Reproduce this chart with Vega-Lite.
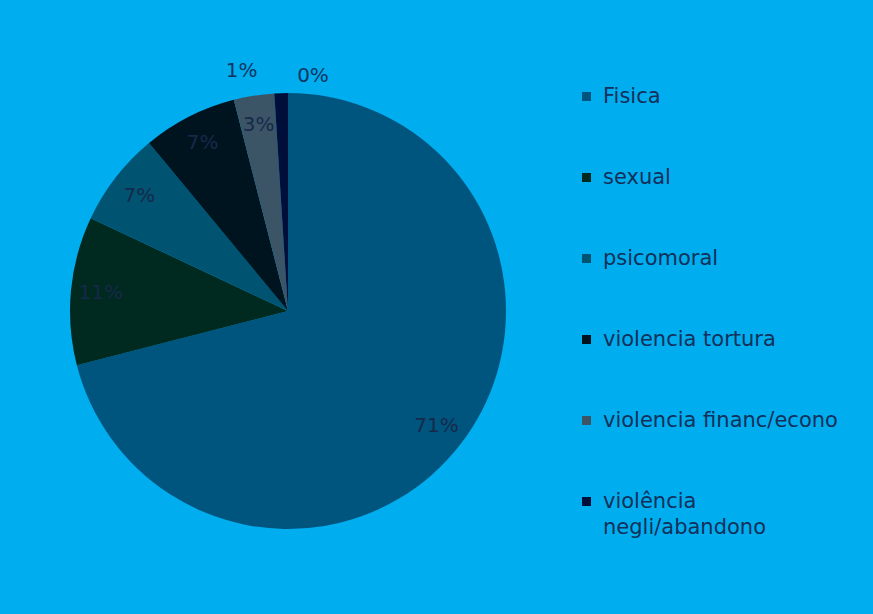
{
  "$schema": "https://vega.github.io/schema/vega-lite/v6.json",
  "width": 436,
  "height": 436,
  "padding": {"left": 70, "top": 61, "right": 35, "bottom": 76},
  "background": "#00AEEF",
  "view": {"stroke": null},
  "config": {"font": "DejaVu Sans", "style": {"guide-label": {"lineHeight": 26}}},
  "data": {
    "values": [
      {"tipo": "Fisica", "pct": 0.71, "i": 1},
      {"tipo": "sexual", "pct": 0.11, "i": 2},
      {"tipo": "psicomoral", "pct": 0.07, "i": 3},
      {"tipo": "violencia tortura", "pct": 0.07, "i": 4},
      {"tipo": "violencia financ/econo", "pct": 0.03, "i": 5},
      {"tipo": "violência negli/abandono", "pct": 0.01, "i": 6},
      {"tipo": "outros", "pct": 0, "i": 7}
    ]
  },
  "encoding": {
    "theta": {"field": "pct", "type": "quantitative", "stack": true},
    "order": {"field": "i", "type": "quantitative"},
    "text": {"field": "pct", "type": "quantitative", "format": ".0%"}
  },
  "layer": [
    {
      "mark": {"type": "arc"},
      "encoding": {
        "text": null,
        "color": {
          "field": "tipo",
          "type": "nominal",
          "sort": null,
          "scale": {
            "domain": ["Fisica", "sexual", "psicomoral", "violencia tortura", "violencia financ/econo", "violência negli/abandono", "outros"],
            "range": ["#00557F", "#002A1F", "#005472", "#00141F", "#3B5567", "#000E3A", "#00557F"]
          },
          "legend": {
            "title": null,
            "orient": "none",
            "legendX": 506,
            "legendY": -7,
            "values": ["Fisica", "sexual", "psicomoral", "violencia tortura", "violencia financ/econo", "violência negli/abandono"],
            "symbolType": "square",
            "symbolSize": 81,
            "symbolStrokeWidth": 0,
            "labelFontSize": 21,
            "labelColor": "#12305A",
            "labelFont": "DejaVu Sans",
            "labelLimit": 360,
            "labelOffset": 6,
            "rowPadding": 59,
            "padding": 0,
            "labelExpr": "datum.label == 'violência negli/abandono' ? ['violência', 'negli/abandono'] : datum.label"
          }
        }
      }
    },
    {
      "transform": [{"filter": "datum.pct >= 0.02"}],
      "mark": {"type": "text", "radius": 188, "fontSize": 20, "color": "#16294A"}
    },
    {
      "transform": [{"filter": "datum.pct == 0.01"}],
      "mark": {"type": "text", "radius": 245, "dx": -54, "dy": 5, "fontSize": 20, "color": "#0F3564"}
    },
    {
      "transform": [{"filter": "datum.pct == 0"}],
      "mark": {"type": "text", "radius": 240, "dx": 25, "dy": 5, "fontSize": 20, "color": "#0F3564"}
    }
  ]
}
